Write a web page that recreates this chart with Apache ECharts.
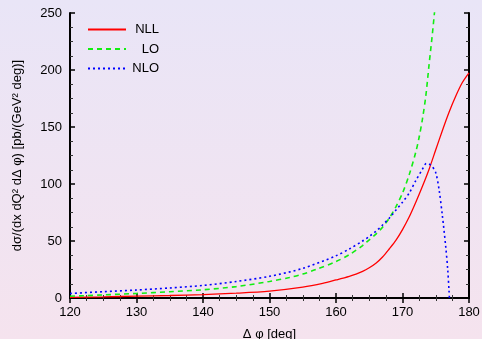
<!DOCTYPE html>
<html><head><meta charset="utf-8">
<script src="https://cdn.jsdelivr.net/npm/echarts@6/dist/echarts.min.js"></script>
<style>html,body{margin:0;padding:0;}#c{width:482px;height:339px;}</style>
</head><body><div id="c"></div>
<script>
const seriesNames = ['NLL', 'LO', 'NLO'];
const xTicks = [120, 130, 140, 150, 160, 170, 180];
const yTicks = [0, 50, 100, 150, 200, 250];

const nllX = [120, 125, 130, 135, 140, 145, 150, 155, 158, 160, 162, 163, 164, 165, 166, 167, 168, 169, 170, 171, 172, 173, 174, 175, 176, 177, 178, 179, 180];
const nllY = [0.5, 1, 1.6, 2.2, 3, 4.2, 6, 9.5, 12.8, 15.8, 19, 21, 23.3, 26.5, 30.5, 36, 43, 50.5, 60, 71, 84, 98, 113, 130, 147, 163, 177, 189, 197.5];

const loX = [120, 122, 125, 130, 135, 140, 145, 150, 153, 155, 157, 160, 162, 164, 165, 166, 167, 168, 169, 170, 171, 172, 172.5, 173, 173.5, 174, 174.5, 175];
const loY = [1.5, 2, 2.7, 4, 5.5, 7.2, 10, 14.5, 18, 21, 25, 32, 38, 46, 51, 56, 62, 70, 80, 92, 108, 128, 141, 157, 177, 205, 232, 262];

const nloX = [120, 125, 130, 135, 140, 145, 150, 155, 160, 162, 164, 165, 166, 167, 168, 169, 170, 171, 172, 173, 173.6, 174, 174.5, 175, 175.5, 176, 176.5, 176.8, 177, 177.05];
const nloY = [4, 5.5, 7, 8.8, 11, 14.5, 19, 26, 37, 43, 50, 54, 58.5, 64, 70, 77, 84, 92, 103, 113, 118, 117.5, 115, 110, 95, 72, 45, 25, 6, 0];

function pairs(xs, ys) { return xs.map((x, i) => [x, ys[i]]); }

const chart = echarts.init(document.getElementById('c'), null, { renderer: 'canvas' });
const font = 'Liberation Sans, Arial, sans-serif';
const axisCommon = {
  axisLine: { show: true, lineStyle: { color: '#000', width: 2 } },
  axisTick: { show: true, inside: true, length: 5, lineStyle: { color: '#000', width: 1.5 } },
  minorTick: { show: true, splitNumber: 4, length: 3, lineStyle: { color: '#333', width: 1 } },
  splitLine: { show: false }
};
chart.setOption({
  backgroundColor: new echarts.graphic.LinearGradient(0, 0, 0, 1, [
    { offset: 0, color: '#e9e5f7' }, { offset: 1, color: '#f5e3ee' }
  ]),
  animation: false,
  grid: { left: 70, right: 13, top: 13, bottom: 41, containLabel: false, outerBoundsMode: 'none' },
  legend: {
    orient: 'vertical', left: 82, top: 18, itemWidth: 38, itemHeight: 10, itemGap: 6.5,
    data: seriesNames,
    itemStyle: { opacity: 0, color: 'transparent', borderWidth: 0 },
    formatter: n => '{a|' + n + '}',
    textStyle: { fontFamily: font, fontSize: 13, color: '#000',
      rich: { a: { width: 28, align: 'right', fontFamily: font, fontSize: 13, color: '#000' } } }
  },
  xAxis: [
    Object.assign({}, axisCommon, {
      type: 'value', position: 'bottom', min: xTicks[0], max: xTicks[xTicks.length - 1], interval: 10,
      axisLabel: { fontFamily: font, fontSize: 13, color: '#000', margin: 8 },
      name: 'Δ φ [deg]', nameLocation: 'middle', nameGap: 30,
      nameTextStyle: { fontFamily: font, fontSize: 13, color: '#000' }
    }),
    Object.assign({}, axisCommon, {
      type: 'value', position: 'top', min: xTicks[0], max: xTicks[xTicks.length - 1], interval: 10,
      axisLabel: { show: false }
    })
  ],
  yAxis: [
    Object.assign({}, axisCommon, {
      type: 'value', position: 'left', min: yTicks[0], max: yTicks[yTicks.length - 1], interval: 50,
      axisLabel: { fontFamily: font, fontSize: 13, color: '#000', margin: 8 },
      name: 'dσ/(dx dQ² dΔ φ) [pb/(GeV² deg)]', nameLocation: 'middle', nameGap: 46, nameRotate: 90,
      nameTextStyle: { fontFamily: font, fontSize: 13, color: '#000' }
    }),
    Object.assign({}, axisCommon, {
      type: 'value', position: 'right', min: yTicks[0], max: yTicks[yTicks.length - 1], interval: 50,
      axisLabel: { show: false }
    })
  ],
  series: [
    { name: 'NLL', type: 'line', symbol: 'none', smooth: 0.3, clip: true, data: pairs(nllX, nllY),
      lineStyle: { color: '#ff0000', width: 1.3, type: 'solid' }, itemStyle: { color: '#ff0000' } },
    { name: 'LO', type: 'line', symbol: 'none', smooth: 0.3, clip: true, data: pairs(loX, loY),
      lineStyle: { color: '#11ee11', width: 1.6, type: [5, 4] }, itemStyle: { color: '#11ee11' } },
    { name: 'NLO', type: 'line', symbol: 'none', smooth: 0.3, clip: true, data: pairs(nloX, nloY),
      lineStyle: { color: '#0000ff', width: 1.6, type: [2, 3] }, itemStyle: { color: '#0000ff' } }
  ]
});
</script></body></html>
